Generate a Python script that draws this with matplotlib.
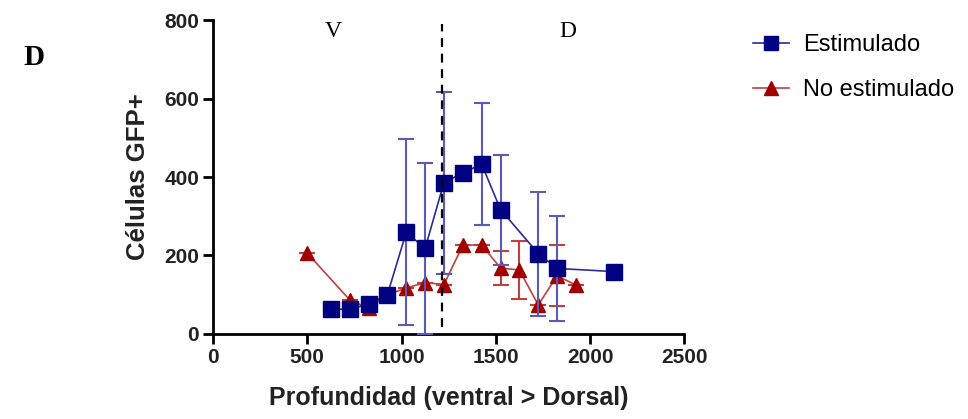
import numpy as np
import matplotlib.pyplot as plt
from matplotlib.lines import Line2D

plt.rcParams['font.family'] = ['Liberation Sans', 'DejaVu Sans']

# Estimulado
x_est = [625, 725, 825, 925, 1025, 1125, 1225, 1325, 1425, 1525, 1725, 1825, 2125]
y_est = [63, 63, 76, 100, 259, 218, 386, 410, 433, 317, 205, 167, 159]
err_est = [0, 0, 0, 0, 237, 218, 232, 0, 155, 140, 158, 133, 0]

# No estimulado
x_no = [500, 725, 825, 925, 1025, 1125, 1225, 1325, 1425, 1525, 1625, 1725, 1825, 1925]
y_no = [206, 87, 65, 100, 117, 131, 126, 226, 227, 168, 163, 74, 148, 125]
err_no = [0, 0, 0, 0, 0, 0, 0, 0, 0, 44, 73, 0, 78, 0]

blue_line = '#2b2b9a'
blue_mark = '#000080'
red_line = '#c04040'
red_mark = '#a00000'

fig = plt.figure(figsize=(9.68, 4.19), dpi=100)
ax = fig.add_axes([0.220, 0.203, 0.487, 0.749])

ax.errorbar(x_est, y_est, yerr=err_est, color=blue_line, lw=1.2, elinewidth=1.5,
            ecolor='#5b5bb5', capsize=6, capthick=1.5, marker='s', ms=11,
            mfc=blue_mark, mec=blue_mark, zorder=3)
ax.errorbar(x_no, y_no, yerr=err_no, color=red_line, lw=1.2, elinewidth=1.5,
            ecolor=red_line, capsize=6, capthick=1.5, marker='^', ms=10,
            mfc=red_mark, mec=red_mark, zorder=2)

ax.plot([1215, 1215], [18, 790], color='black', lw=1.6, ls=(0, (4, 3)), zorder=4)

ax.set_xlim(0, 2500)
ax.set_ylim(0, 800)
ax.set_xticks([0, 500, 1000, 1500, 2000, 2500])
ax.set_yticks([0, 200, 400, 600, 800])
for s in ['top', 'right']:
    ax.spines[s].set_visible(False)
for s in ['left', 'bottom']:
    ax.spines[s].set_linewidth(2)
ax.tick_params(width=2, length=7, labelsize=15, pad=3)
for lab in ax.get_xticklabels() + ax.get_yticklabels():
    lab.set_fontweight('bold')
    lab.set_color('#222222')

ax.set_xlabel('Profundidad (ventral > Dorsal)', fontsize=18, fontweight='bold',
              color='#222222', labelpad=14)
ax.set_ylabel('Células GFP+', fontsize=18.5, fontweight='bold', color='#222222',
              labelpad=10)

ax.text(640, 770, 'V', fontsize=17, family='Liberation Serif', ha='center', va='center')
ax.text(1880, 770, 'D', fontsize=17, family='Liberation Serif', ha='center', va='center')
fig.text(0.024, 0.862, 'D', fontsize=21, family='Liberation Serif', fontweight='bold',
         ha='left', va='center')

handles = [
    Line2D([], [], color=blue_line, lw=1.2, marker='s', ms=10, mfc=blue_mark, mec=blue_mark),
    Line2D([], [], color=red_line, lw=1.2, marker='^', ms=10, mfc=red_mark, mec=red_mark),
]
fig.legend(handles, ['Estimulado', 'No estimulado'], loc='upper left',
           bbox_to_anchor=(0.778, 0.918), frameon=False, fontsize=17,
           handlelength=1.5, handletextpad=0.6, labelspacing=0.95,
           borderpad=0, borderaxespad=0)

fig.savefig('out.png', dpi=100)
